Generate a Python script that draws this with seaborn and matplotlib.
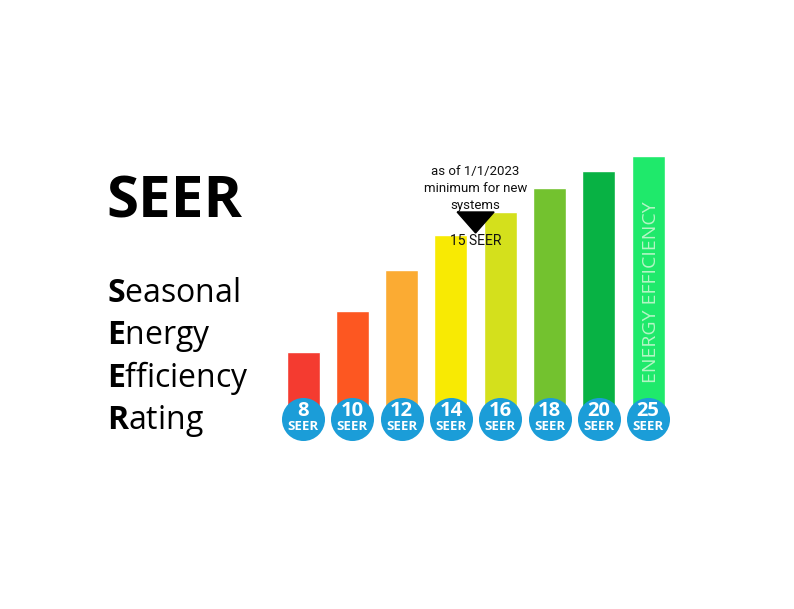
import matplotlib
matplotlib.use("Agg")
import matplotlib.pyplot as plt
import seaborn as sns
import pandas as pd

# SEER ratings and relative bar heights
ratings = ["8", "10", "12", "14", "16", "18", "20", "25"]
heights = [58, 99, 140, 175, 198, 222, 239, 254]
bar_colors = ["#f43b30", "#fd5721", "#fbab33", "#f8ea03", "#d4e01c",
              "#73c22f", "#08b244", "#1fe96b"]
note_lines = ["as of 1/1/2023", "minimum for new", "systems"]
min_rating = 15
acronym = [("S", "easonal"), ("E", "nergy"), ("E", "fficiency"), ("R", "ating")]

sns.set_theme(style="white")
plt.rcParams["font.family"] = ["Open Sans", "DejaVu Sans"]
plt.rcParams["mathtext.fontset"] = "custom"
plt.rcParams["mathtext.rm"] = "Open Sans"
plt.rcParams["mathtext.bf"] = "Open Sans:bold"

df = pd.DataFrame({"rating": ratings, "height": heights})

W, H = 794, 609
fig = plt.figure(figsize=(W / 100, H / 100), dpi=100)
fig.patch.set_facecolor("white")

# bar axes: one data unit on y is one pixel, base of bars at y=410px
left_px, step = 278.4, 49.3
ax = fig.add_axes([left_px / W, (H - 410) / H, 8 * step / W, 260 / H])
sns.barplot(data=df, x="rating", y="height", hue="rating", palette=bar_colors,
            width=0.67, legend=False, saturation=1, ax=ax)
ax.set_xlim(-0.5, 7.5)
ax.set_ylim(0, 260)
ax.set_axis_off()

# blue rating badges below the bars
xs = range(len(ratings))
ax.scatter(xs, [-8.5] * len(ratings), s=960, color="#1b9dd8", clip_on=False,
           zorder=5, linewidths=0)
for i, r in enumerate(ratings):
    ax.text(i, -1, r, ha="center", va="center", color="white",
            fontsize=14.5, fontweight="bold", zorder=6, clip_on=False)
    ax.text(i, -16, "SEER", ha="center", va="center", color="white",
            fontsize=9.5, fontweight="bold", zorder=6, clip_on=False)

# minimum rating marker between 14 and 16
mx = ratings.index("14") + (min_rating - 14) / 2
ax.fill([mx - 0.375, mx + 0.375, mx], [198, 198, 177], color="black", zorder=4)
for k, line in enumerate(note_lines):
    ax.text(mx, 239 - 17 * k, line, ha="center", va="center", fontsize=9.5,
            family=["Roboto", "DejaVu Sans"], color="#111111")
ax.text(mx, 169, f"{min_rating} SEER", ha="center", va="center", fontsize=10,
        family=["Roboto", "DejaVu Sans"], color="#111111", zorder=4)

# label inside the tallest bar
ax.text(7.05, 118, "ENERGY EFFICIENCY", rotation=90, ha="center", va="center",
        fontsize=14, color="#b4f6c5")

# title and acronym on the left
fig.text(106 / W, 1 - 217 / H, "SEER", fontsize=42, fontweight="bold",
         color="black", va="baseline", ha="left")
baselines = [302, 344, 387, 429]
for (first, rest), yb in zip(acronym, baselines):
    fig.text(107 / W, 1 - yb / H, rf"$\mathbf{{{first}}}$" + rest, fontsize=23,
             color="black", va="baseline", ha="left")

fig.savefig("out.png", dpi=100, facecolor="white")
